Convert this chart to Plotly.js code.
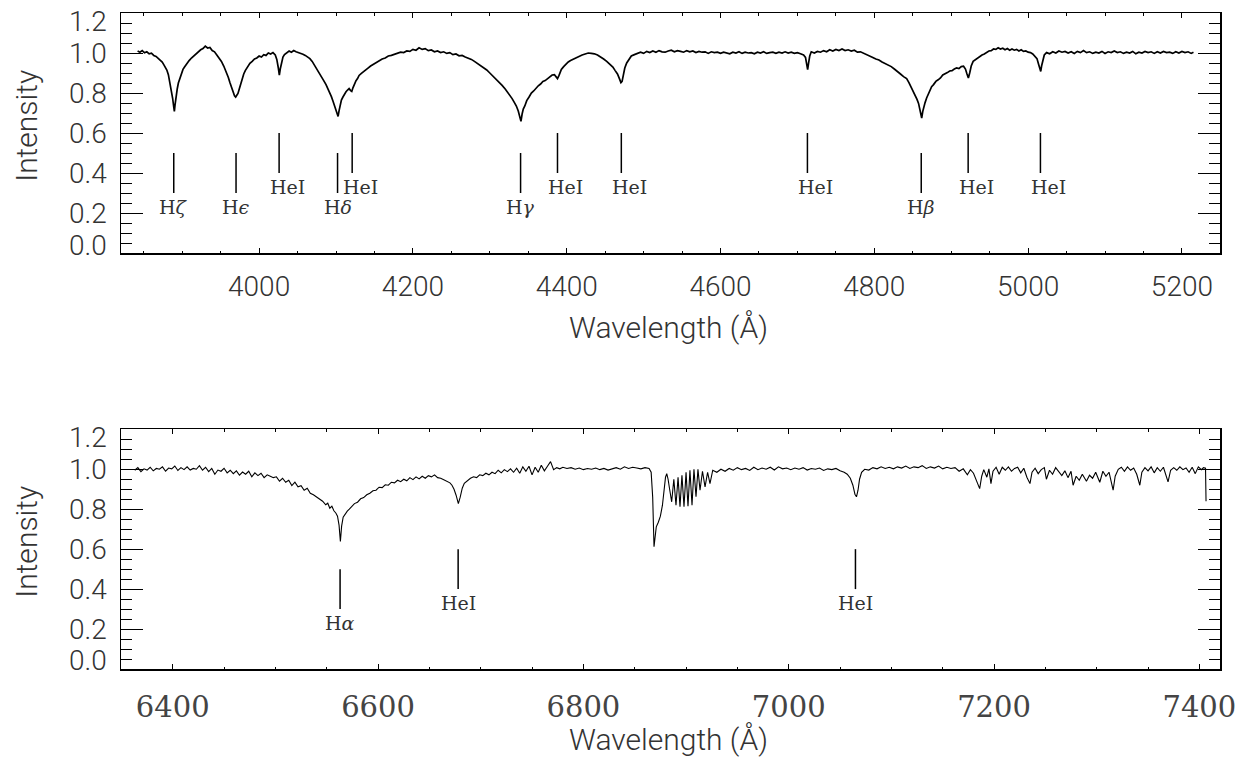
<!DOCTYPE html>
<html><head><meta charset="utf-8">
<script src="https://cdn.plot.ly/plotly-3.0.1.min.js"></script>
<style>html,body{margin:0;padding:0;background:#fff}#chart{width:1239px;height:759px}</style>
</head><body><div id="chart"></div>
<script>
// ---------- DATA ----------
const wave1 = [3842,3845,3848,3851,3854,3857,3860,3863,3866,3869,3872,3874,3876,3878,3880,3882,3884,3886,3887.5,3889,3889.8,3890.8,3892,3893.5,3895,3897,3899,3901,3903,3906,3909,3912,3915,3918,3921,3924,3927,3930,3933,3936,3939,3942,3945,3948,3951,3954,3956,3958,3960,3962,3964,3966,3968,3969.5,3971,3972.5,3974,3976,3978,3980,3982,3985,3988,3991,3994,3997,4000,4003,4006,4009,4012,4015,4018,4021,4023,4025,4026.3,4027.5,4029,4031,4033,4036,4039,4042,4045,4048,4051,4054,4057,4060,4063,4066,4069,4072,4075,4078,4081,4084,4087,4090,4092,4094,4096,4098,4100,4101.5,4102.7,4104,4105.5,4107,4109,4111,4113,4115,4117,4119,4120.5,4122,4124,4126,4128,4130,4133,4136,4139,4142,4145,4148,4151,4154,4157,4160,4164,4168,4172,4176,4180,4184,4188,4192,4196,4200,4204,4208,4212,4216,4220,4224,4228,4232,4236,4240,4244,4248,4252,4256,4260,4264,4268,4272,4276,4280,4284,4288,4292,4296,4300,4304,4308,4312,4316,4320,4323,4326,4329,4332,4334.5,4337,4339,4340.5,4342,4343.5,4345.5,4348,4351,4354,4357,4360,4363,4366,4369,4372,4375,4378,4381,4384,4386.5,4388,4390,4393,4396,4399,4402,4405,4408,4412,4416,4420,4424,4428,4432,4436,4440,4444,4448,4452,4456,4460,4463,4466,4468.5,4470.5,4472,4473.5,4475.5,4478,4481,4484,4488,4492,4496,4500,4504,4508,4512,4516,4520,4524,4528,4532,4536,4540,4544,4548,4552,4556,4560,4564,4568,4572,4576,4580,4584,4588,4592,4596,4600,4604,4608,4612,4616,4620,4624,4628,4632,4636,4640,4644,4648,4652,4656,4660,4664,4668,4672,4676,4680,4684,4688,4692,4696,4700,4704,4708,4710.5,4712,4713.3,4714.5,4716,4718,4722,4726,4730,4734,4738,4742,4746,4750,4754,4758,4762,4766,4770,4774,4778,4782,4786,4790,4794,4798,4802,4806,4810,4814,4818,4822,4826,4830,4834,4838,4842,4845,4848,4850.5,4853,4855.5,4857.5,4859.5,4861.6,4863,4864.5,4866,4868,4870,4872,4874.5,4877,4880,4883,4886,4889,4892,4895,4898,4901,4904,4907,4910,4913,4916,4918.5,4920.5,4922.3,4924,4926,4928.5,4931,4934,4937,4940,4943,4946,4949,4952,4955,4958,4961,4964,4967,4970,4973,4976,4979,4982,4985,4988,4991,4994,4997,5000,5003,5006,5009,5011.5,5013.5,5015,5016.4,5017.5,5019,5021,5024,5028,5032,5036,5040,5044,5048,5052,5056,5060,5064,5068,5072,5076,5080,5084,5088,5092,5096,5100,5104,5108,5112,5116,5120,5124,5128,5132,5136,5140,5144,5148,5152,5156,5160,5164,5168,5172,5176,5180,5184,5188,5192,5196,5200,5204,5208,5212,5215];
const flux1 = [1.010,1.004,1.012,1.001,1.006,0.996,0.999,0.988,0.983,0.972,0.963,0.955,0.942,0.930,0.915,0.892,0.855,0.812,0.775,0.730,0.708,0.745,0.785,0.820,0.850,0.876,0.898,0.918,0.930,0.948,0.962,0.975,0.985,0.998,1.005,1.016,1.022,1.034,1.025,1.028,1.012,1.006,0.990,0.975,0.958,0.935,0.918,0.900,0.878,0.852,0.828,0.800,0.786,0.780,0.788,0.798,0.818,0.848,0.876,0.895,0.912,0.930,0.948,0.958,0.970,0.975,0.985,0.980,0.992,0.988,1.000,0.995,1.002,0.990,0.968,0.925,0.890,0.920,0.955,0.980,0.992,1.000,1.010,1.004,1.012,1.006,1.003,0.998,0.994,0.988,0.982,0.972,0.958,0.940,0.920,0.902,0.882,0.862,0.842,0.818,0.800,0.782,0.760,0.740,0.718,0.700,0.683,0.712,0.745,0.765,0.780,0.795,0.806,0.815,0.822,0.812,0.808,0.826,0.845,0.862,0.872,0.888,0.898,0.906,0.918,0.926,0.935,0.942,0.952,0.955,0.966,0.970,0.975,0.985,0.988,0.994,0.998,1.004,1.002,1.010,1.008,1.018,1.014,1.026,1.018,1.022,1.012,1.015,1.006,1.010,1.002,1.006,0.998,1.002,0.992,0.995,0.986,0.988,0.980,0.975,0.968,0.958,0.948,0.938,0.925,0.915,0.900,0.885,0.872,0.855,0.838,0.820,0.805,0.792,0.772,0.752,0.735,0.710,0.685,0.658,0.695,0.720,0.735,0.762,0.780,0.800,0.810,0.825,0.836,0.845,0.858,0.862,0.872,0.878,0.890,0.892,0.880,0.872,0.888,0.918,0.932,0.945,0.955,0.962,0.968,0.975,0.982,0.990,0.995,1.000,0.998,0.996,0.990,0.982,0.970,0.958,0.945,0.930,0.912,0.895,0.872,0.852,0.858,0.885,0.925,0.950,0.970,0.985,0.992,1.000,1.004,0.998,1.008,1.002,1.010,1.004,1.012,1.006,1.004,1.010,1.014,1.006,1.012,1.008,1.004,1.012,1.006,1.010,1.002,1.008,1.004,1.006,0.998,1.006,1.002,1.004,0.998,1.004,1.000,0.996,1.004,1.000,1.006,0.998,1.004,1.000,1.002,0.996,1.004,1.000,1.006,0.998,1.002,1.004,0.998,1.004,1.000,1.006,1.000,1.004,0.998,1.002,0.996,0.990,0.978,0.945,0.917,0.950,0.985,1.006,1.000,1.008,1.004,1.012,1.006,1.016,1.010,1.018,1.012,1.020,1.012,1.016,1.010,1.014,1.004,1.006,0.998,0.994,0.985,0.978,0.970,0.965,0.955,0.948,0.938,0.932,0.920,0.905,0.895,0.882,0.872,0.852,0.830,0.808,0.788,0.768,0.748,0.718,0.675,0.708,0.735,0.752,0.775,0.795,0.812,0.832,0.842,0.858,0.866,0.875,0.890,0.895,0.902,0.910,0.912,0.920,0.925,0.922,0.932,0.934,0.920,0.895,0.875,0.900,0.935,0.958,0.965,0.975,0.980,0.990,0.995,1.002,1.010,1.012,1.020,1.018,1.026,1.020,1.024,1.016,1.022,1.014,1.020,1.014,1.018,1.010,1.016,1.008,1.010,1.004,1.002,0.995,0.985,0.972,0.945,0.920,0.908,0.935,0.965,0.990,1.002,0.996,1.006,1.000,1.010,1.004,1.008,1.000,1.006,0.998,1.008,1.002,1.012,1.002,1.006,0.998,1.004,1.000,1.008,0.998,1.006,1.002,1.010,1.002,1.006,0.998,1.004,1.000,1.008,0.996,1.004,1.000,1.008,1.002,1.006,0.998,1.006,1.000,1.008,1.002,1.004,0.998,1.006,1.000,1.008,1.002,1.006,0.998,1.004];

const wave2 = [6363,6366,6369,6372,6375,6378,6381,6384,6387,6390,6393,6396,6399,6402,6405,6408,6411,6414,6417,6420,6423,6426,6429,6432,6435,6438,6441,6444,6447,6450,6453,6456,6459,6462,6465,6468,6471,6474,6477,6480,6483,6486,6489,6492,6495,6498,6501,6504,6507,6510,6513,6516,6519,6522,6525,6528,6531,6534,6537,6540,6543,6546,6549,6551,6553,6555,6557,6559,6560.5,6562,6563.3,6564.5,6566,6568,6570,6572,6574,6577,6580,6583,6586,6589,6592,6595,6598,6601,6604,6607,6610,6613,6616,6619,6622,6625,6628,6631,6634,6637,6640,6643,6646,6649,6652,6655,6658,6661,6664,6667,6670,6672,6674,6676,6678.2,6680,6682,6684,6687,6690,6693,6696,6699,6702,6705,6708,6711,6714,6717,6720,6723,6726,6729,6732,6735,6738,6741,6744,6747,6750,6753,6756,6759,6762,6765,6768,6771,6774,6777,6780,6784,6788,6792,6796,6800,6804,6808,6812,6816,6820,6824,6828,6832,6836,6840,6844,6848,6852,6856,6860,6864,6866,6867.5,6868.8,6870,6871,6873,6875,6877,6878.5,6880,6881.2,6882.5,6884,6886,6888.1,6890.2,6892.2,6894.1,6896,6898,6900,6901.9,6903.8,6905.8,6907.7,6909.7,6911.6,6913.6,6916,6918.5,6921,6923.3,6926,6930,6934,6938,6942,6946,6950,6954,6958,6962,6966,6970,6974,6978,6982,6986,6990,6994,6998,7002,7006,7010,7014,7018,7022,7026,7030,7034,7038,7042,7046,7050,7054,7057,7060,7062.5,7064.5,7066,7067.5,7069,7071,7074,7078,7082,7086,7090,7094,7098,7102,7106,7110,7114,7118,7122,7126,7130,7134,7138,7142,7146,7150,7154,7158,7162,7166,7170,7174,7177,7180,7183,7186,7188,7190,7193,7195,7197,7199,7202,7205,7208,7211,7214,7217,7220,7223,7226,7229,7232,7235,7237,7240,7243,7246,7249,7251,7254,7257,7260,7263,7266,7269,7272,7275,7277,7280,7283,7286,7290,7293,7296,7299,7301,7303,7306,7309,7312,7316,7318,7321,7324,7327,7330,7333,7336,7339,7342,7344,7347,7350,7353,7356,7359,7362,7365,7367,7369.5,7372,7375,7378,7381,7384,7387,7390,7393,7396,7399,7402,7404,7406,7406.5];
const flux2 = [0.995,1.008,0.988,1.002,0.996,1.010,0.992,1.004,1.000,1.012,0.990,1.006,1.002,1.016,0.994,1.008,0.998,1.012,0.996,1.004,1.000,1.018,0.995,1.010,0.988,1.004,0.975,0.996,0.990,1.005,0.982,0.995,0.978,0.992,0.970,0.986,0.975,0.990,0.962,0.982,0.968,0.980,0.958,0.972,0.965,0.958,0.962,0.940,0.955,0.935,0.945,0.918,0.935,0.912,0.918,0.895,0.905,0.880,0.872,0.862,0.848,0.840,0.822,0.830,0.805,0.815,0.792,0.780,0.765,0.720,0.638,0.715,0.760,0.778,0.790,0.800,0.812,0.828,0.835,0.852,0.858,0.872,0.880,0.892,0.895,0.910,0.908,0.922,0.920,0.935,0.932,0.945,0.938,0.950,0.942,0.958,0.948,0.962,0.952,0.965,0.955,0.968,0.962,0.972,0.958,0.955,0.948,0.940,0.932,0.920,0.900,0.870,0.828,0.860,0.905,0.930,0.942,0.955,0.962,0.958,0.972,0.968,0.980,0.972,0.985,0.978,0.995,0.982,0.998,0.988,1.002,0.985,1.005,0.980,1.012,0.990,1.015,0.972,1.010,0.985,1.020,0.992,1.015,1.038,0.998,1.008,1.002,1.010,1.004,1.008,1.000,1.006,0.998,1.004,1.000,1.006,0.998,1.004,0.996,1.002,1.008,1.000,1.012,1.004,1.010,1.006,1.002,1.008,1.004,0.985,0.860,0.612,0.680,0.712,0.735,0.765,0.820,0.890,0.960,0.978,0.950,0.900,0.837,0.950,0.820,0.960,0.812,0.970,0.812,0.985,0.815,0.995,0.820,1.000,0.862,1.000,0.895,0.990,0.912,0.985,0.928,0.995,0.985,1.000,0.990,1.004,0.995,1.008,0.998,1.004,0.994,1.010,0.998,1.006,1.000,1.010,0.996,1.012,1.002,1.006,0.998,1.006,1.000,1.008,0.996,1.004,1.000,1.006,0.994,1.002,0.998,1.004,0.992,0.985,0.975,0.955,0.920,0.875,0.862,0.895,0.950,0.985,1.000,0.996,1.008,1.002,1.012,1.004,1.010,1.002,1.012,1.006,1.016,1.004,1.012,1.008,1.018,1.004,1.012,1.006,1.016,1.002,1.010,1.004,1.008,0.990,1.002,0.972,0.998,0.980,0.940,0.903,0.965,0.998,0.960,1.002,0.928,0.990,1.010,0.975,1.010,0.995,1.012,0.990,1.004,1.010,0.982,1.005,0.960,0.928,0.985,1.005,0.978,0.998,1.008,0.950,0.995,0.975,1.008,0.990,0.968,0.992,0.958,0.990,0.920,0.965,0.945,0.975,0.940,0.970,0.955,0.985,0.960,0.935,0.990,0.965,0.985,0.895,0.965,1.000,1.010,0.990,1.012,0.995,1.006,0.975,0.920,0.985,1.008,0.992,1.012,0.982,1.008,0.990,1.010,0.975,0.937,0.995,1.008,0.995,1.012,0.998,1.006,0.985,1.010,0.978,1.012,0.998,1.008,1.005,0.840];

// spectral line identifications
const lineWave1 = [3889, 3970, 4026, 4102, 4121, 4340, 4388, 4471, 4713, 4861, 4922, 5016];
const lineName1 = ['H<i>ζ</i>', 'H<i>ϵ</i>', 'HeI', 'H<i>δ</i>', 'HeI', 'H<i>γ</i>', 'HeI', 'HeI', 'HeI', 'H<i>β</i>', 'HeI', 'HeI'];
const lineWave2 = [6563, 6678, 7065];
const lineName2 = ['H<i>α</i>', 'HeI', 'HeI'];

const yTickVals = [0, 0.2, 0.4, 0.6, 0.8, 1.0, 1.2];
const yTickText = ['0.0', '0.2', '0.4', '0.6', '0.8', '1.0', '1.2'];
const yTitle = 'Intensity';
const xTitle = 'Wavelength (Å)';

// ---------- STYLE ----------
const INK = '#000';
const TXT = '#333';
const SANS = {family: 'Roboto, "DejaVu Sans", sans-serif', size: 28, color: TXT, weight: 300};
const SERIF = {family: '"DejaVu Serif", "Liberation Serif", serif', size: 29, color: '#444'};
const LBL = {family: '"DejaVu Serif", "Liberation Serif", serif', size: 19, color: TXT};

function xAxis(range, font, anchor, t0, standoff) {
  return {
    range: range, anchor: anchor, showgrid: false, zeroline: false,
    showline: true, linecolor: INK, linewidth: 1.5, mirror: 'ticks',
    ticks: 'inside', ticklen: 5, tickwidth: 1, tickcolor: INK,
    tickmode: 'linear', tick0: t0, dtick: 200,
    minor: {ticks: 'inside', ticklen: 2.5, tickwidth: 1, tickcolor: INK, dtick: 50, tick0: t0, showgrid: false},
    tickfont: font, ticklabelstandoff: standoff
  };
}
function yAxis(domain, anchor) {
  return {
    domain: domain, anchor: anchor, range: [0, 1.2], showgrid: false, zeroline: false,
    showline: true, linecolor: INK, linewidth: 1.5, mirror: 'ticks',
    ticks: 'inside', ticklen: 22, tickwidth: 1, tickcolor: INK,
    tickmode: 'array', tickvals: yTickVals, showticklabels: false,
    minor: {ticks: 'inside', ticklen: 11, tickwidth: 1, tickcolor: INK, dtick: 0.05, tick0: 0, showgrid: false}
  };
}

const traces = [
  {x: wave1, y: flux1, xaxis: 'x', yaxis: 'y', type: 'scatter', mode: 'lines',
   line: {color: INK, width: 1.7}, hoverinfo: 'skip', showlegend: false},
  {x: wave2, y: flux2, xaxis: 'x2', yaxis: 'y2', type: 'scatter', mode: 'lines',
   line: {color: INK, width: 1.1}, hoverinfo: 'skip', showlegend: false}
];

const shapes = [];
const annotations = [];
function addLines(waves, names, xr, yr, heShift) {
  waves.forEach((w, i) => {
    const he = names[i].indexOf('He') === 0;
    const y0 = he ? 0.4 : 0.3, y1 = he ? 0.6 : 0.5, yl = he ? 0.332 : 0.23;
    shapes.push({type: 'line', xref: xr, yref: yr, x0: w, x1: w, y0: y0, y1: y1,
                 line: {color: INK, width: 1.5}});
    annotations.push({xref: xr, yref: yr, x: w, y: yl, text: names[i], showarrow: false,
                      xanchor: 'center', yanchor: 'middle', xshift: he ? heShift : 0, font: LBL});
  });
}
addLines(lineWave1, lineName1, 'x', 'y', 8);
addLines(lineWave2, lineName2, 'x2', 'y2', 0);

['y', 'y2'].forEach(yr => {
  yTickVals.forEach((v, i) => {
    let ys = 0;
    if (i === 0) ys = 8;
    if (i === yTickVals.length - 1) ys = -8;
    annotations.push({xref: 'paper', yref: yr, x: 0, y: v, xanchor: 'right', yanchor: 'middle',
                      xshift: -12, yshift: ys, text: yTickText[i], showarrow: false, font: SANS});
  });
});

// axis titles
const TFONT = Object.assign({}, SANS, {size: 30});
annotations.push({xref: 'paper', yref: 'paper', x: -0.0855, y: 0.828, text: yTitle, textangle: -90,
                  showarrow: false, xanchor: 'center', yanchor: 'middle', font: TFONT});
annotations.push({xref: 'paper', yref: 'paper', x: -0.0855, y: 0.194, text: yTitle, textangle: -90,
                  showarrow: false, xanchor: 'center', yanchor: 'middle', font: TFONT});
annotations.push({xref: 'paper', yref: 'paper', x: 0.498, y: 0.5213, text: xTitle,
                  showarrow: false, xanchor: 'center', yanchor: 'middle', font: TFONT});
annotations.push({xref: 'paper', yref: 'paper', x: 0.498, y: -0.107, text: xTitle,
                  showarrow: false, xanchor: 'center', yanchor: 'middle', font: TFONT});

const layout = {
  width: 1239, height: 759,
  margin: {l: 121, r: 19, t: 13, b: 90},
  paper_bgcolor: '#fff', plot_bgcolor: '#fff',
  showlegend: false,
  xaxis: xAxis([3820.4, 5249.5], SANS, 'y', 4000, 8),
  yaxis: yAxis([0.6341, 1], 'x'),
  xaxis2: xAxis([6349.6, 7420.1], SERIF, 'y2', 6400, 12),
  yaxis2: yAxis([0, 0.3654], 'x2'),
  shapes: shapes,
  annotations: annotations
};

Plotly.newPlot('chart', traces, layout, {staticPlot: true, displayModeBar: false});
</script>
</body></html>
